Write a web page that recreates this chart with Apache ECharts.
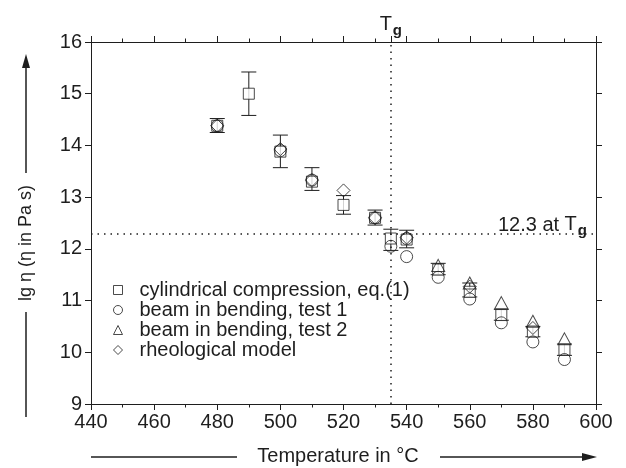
<!DOCTYPE html>
<html><head><meta charset="utf-8">
<script src="https://cdn.jsdelivr.net/npm/echarts@6/dist/echarts.min.js"></script>
<style>html,body{margin:0;padding:0;background:#fff}#c{width:626px;height:468px}</style>
</head><body><div id="c"></div>
<script>
// ---- data ----
const xMin = 440, xMax = 600, xStep = 20;
const yMin = 9, yMax = 16, yStep = 1;
const TG = 535, ETA_TG = 12.3;
const seriesNames = ['cylindrical compression, eq.(1)', 'beam in bending, test 1', 'beam in bending, test 2', 'rheological model'];
const cylT    = [480, 490, 500, 510, 520, 530, 535, 540, 550, 560, 570, 580, 590];
const cylV    = [14.38, 15.0, 13.88, 13.3, 12.85, 12.6, 12.2, 12.18, 11.6, 11.17, 10.72, 10.4, 10.05];
const cylLow  = [14.25, 14.58, 13.57, 13.13, 12.67, 12.46, 11.97, 12.02, 11.5, 11.07, 10.62, 10.3, 9.94];
const cylHigh = [14.52, 15.42, 14.2, 13.57, 13.03, 12.75, 12.38, 12.36, 11.72, 11.34, 10.83, 10.5, 10.16];
const beam1T  = [480, 500, 510, 530, 535, 540, 540, 550, 560, 570, 580, 590];
const beam1V  = [14.38, 13.9, 13.33, 12.6, 12.05, 12.2, 11.85, 11.45, 11.03, 10.57, 10.2, 9.86];
const beam2T  = [550, 560, 570, 580, 590];
const beam2V  = [11.68, 11.34, 10.96, 10.6, 10.26];
const rheoT   = [480, 500, 510, 520, 530, 540, 560, 580];
const rheoV   = [14.38, 13.93, 13.33, 13.13, 12.6, 12.22, 11.27, 10.47];

// ---- chart ----
const FONT = 'Liberation Sans, Arial, Helvetica, sans-serif';
const INK = '#1e1e1e';
const zip = (a, b) => a.map((v, i) => [v, b[i]]);
const hollow = {color: 'rgba(0,0,0,0)', borderColor: INK, borderWidth: 1};

const chart = echarts.init(document.getElementById('c'), null, {renderer: 'canvas'});
const axisCommon = {
  type: 'value', splitLine: {show: false},
  axisLine: {show: true, onZero: false, lineStyle: {color: INK, width: 1}},
  axisTick: {show: true, inside: false, length: 6, lineStyle: {color: INK}},
  axisLabel: {color: INK, fontSize: 20, fontFamily: FONT}
};
const xTop = [];
for (let v = xMin; v <= xMax; v += xStep) xTop.push(v);
xTop.push(TG);

chart.setOption({
  animation: false,
  backgroundColor: '#fff',
  textStyle: {fontFamily: FONT},
  grid: {left: 91, right: 30, top: 42, bottom: 64},
  xAxis: [
    Object.assign({}, axisCommon, {min: xMin, max: xMax, interval: xStep, position: 'bottom',
      minorTick: {show: true, splitNumber: 2, length: 3.5, lineStyle: {color: INK}},
      axisLabel: Object.assign({}, axisCommon.axisLabel, {margin: 8})}),
    Object.assign({}, axisCommon, {min: xMin, max: xMax, interval: xStep, position: 'top',
      axisTick: {show: true, length: 6, customValues: xTop, lineStyle: {color: INK}},
      minorTick: {show: true, splitNumber: 2, length: 3.5, lineStyle: {color: INK}},
      axisLabel: {show: false}})
  ],
  yAxis: [
    Object.assign({}, axisCommon, {min: yMin, max: yMax, interval: yStep, position: 'left',
      axisLabel: Object.assign({}, axisCommon.axisLabel, {margin: 9})}),
    Object.assign({}, axisCommon, {min: yMin, max: yMax, interval: yStep, position: 'right',
      axisLabel: {show: false}})
  ],
  legend: {
    orient: 'vertical', left: 108, top: 275, itemWidth: 9, itemHeight: 9, itemGap: 0,
    data: seriesNames,
    itemStyle: {borderWidth: 1, borderColor: INK},
    textStyle: {fontSize: 20, color: INK, fontFamily: FONT, lineHeight: 20, padding: [0, 0, 0, 12]},
    selectedMode: false
  },
  series: [
    {
      type: 'custom', name: 'err', silent: true, z: 3,
      data: cylT.map((t, i) => [t, cylLow[i], cylHigh[i]]),
      renderItem: function (params, api) {
        const lo = api.coord([api.value(0), api.value(1)]);
        const hi = api.coord([api.value(0), api.value(2)]);
        const w = 7.5;
        const st = {stroke: INK, lineWidth: 1, fill: null};
        return {type: 'group', children: [
          {type: 'line', shape: {x1: lo[0], y1: lo[1], x2: hi[0], y2: hi[1]}, style: st},
          {type: 'line', shape: {x1: lo[0] - w, y1: lo[1], x2: lo[0] + w, y2: lo[1]}, style: st},
          {type: 'line', shape: {x1: hi[0] - w, y1: hi[1], x2: hi[0] + w, y2: hi[1]}, style: st}
        ]};
      }
    },
    {
      type: 'scatter', name: seriesNames[0], symbol: 'rect', symbolSize: 11, z: 4,
      data: zip(cylT, cylV), itemStyle: Object.assign({}, hollow, {color: '#fff'}),
      emphasis: {disabled: true},
      markLine: {
        silent: true, symbol: ['none', 'none'], animation: false,
        lineStyle: {color: INK, type: [1.5, 5], width: 1.5},
        data: [
          {xAxis: TG, label: {show: true, position: 'end', distance: 6, formatter: '{t|T}{g|g}',
            rich: {t: {fontSize: 20, color: INK, fontFamily: FONT, verticalAlign: 'top', lineHeight: 22},
                   g: {fontSize: 15, fontWeight: 'bold', color: INK, fontFamily: FONT, verticalAlign: 'top', lineHeight: 16, padding: [9, 0, 0, 1]}}}},
          {yAxis: ETA_TG, label: {show: true, position: 'insideEndTop', distance: [9, -3], formatter: '12.3 at {t|T}{g|g}',
            color: INK, fontSize: 20, fontFamily: FONT,
            rich: {t: {fontSize: 20, color: INK, fontFamily: FONT, verticalAlign: 'top', lineHeight: 22},
                   g: {fontSize: 15, fontWeight: 'bold', color: INK, fontFamily: FONT, verticalAlign: 'top', lineHeight: 16, padding: [9, 0, 0, 1]}}}}
        ]
      }
    },
    {type: 'scatter', name: seriesNames[1], symbol: 'circle', symbolSize: 12, z: 5,
      data: zip(beam1T, beam1V), itemStyle: hollow, emphasis: {disabled: true}},
    {type: 'scatter', name: seriesNames[2], symbol: 'triangle', symbolSize: [13, 12], z: 5,
      data: zip(beam2T, beam2V), itemStyle: hollow, emphasis: {disabled: true}},
    {type: 'scatter', name: seriesNames[3], symbol: 'diamond', symbolSize: 13, z: 5,
      data: zip(rheoT, rheoV), itemStyle: hollow, emphasis: {disabled: true}}
  ],
  graphic: [
    {type: 'text', x: 26, y: 243, rotation: Math.PI / 2,
      style: {text: 'lg η (η in Pa s)', fontSize: 18, fontFamily: FONT, fill: INK, align: 'center', verticalAlign: 'middle'}},
    {type: 'line', shape: {x1: 26, y1: 173, x2: 26, y2: 64}, style: {stroke: INK, lineWidth: 1.5}},
    {type: 'polygon', shape: {points: [[22, 68], [30, 68], [26, 54]]}, style: {fill: INK}},
    {type: 'line', shape: {x1: 26, y1: 312, x2: 26, y2: 417}, style: {stroke: INK, lineWidth: 1.5}},
    {type: 'text', x: 338, y: 456,
      style: {text: 'Temperature in °C', fontSize: 20, fontFamily: FONT, fill: INK, align: 'center', verticalAlign: 'middle'}},
    {type: 'line', shape: {x1: 91, y1: 457, x2: 237, y2: 457}, style: {stroke: INK, lineWidth: 1.5}},
    {type: 'line', shape: {x1: 440, y1: 457, x2: 584, y2: 457}, style: {stroke: INK, lineWidth: 1.5}},
    {type: 'polygon', shape: {points: [[582, 453], [582, 461], [597, 457]]}, style: {fill: INK}}
  ]
});
</script>
</body></html>
